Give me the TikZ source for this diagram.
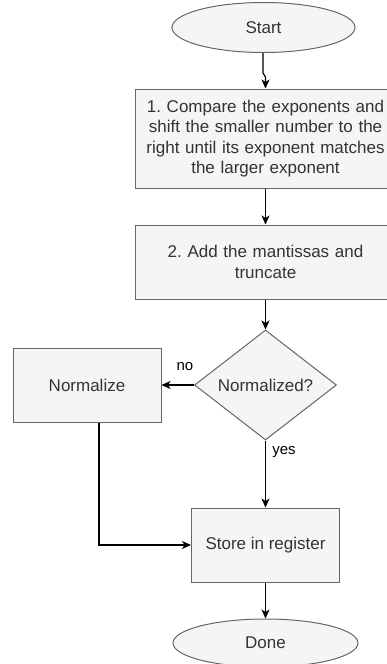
\documentclass[tikz,border=0pt]{standalone}
\usepackage{fontspec}
\setmainfont{Liberation Sans}
\usetikzlibrary{shapes.geometric,arrows.meta}
\definecolor{boxfill}{HTML}{F5F5F5}
\definecolor{boxdraw}{HTML}{666666}
\definecolor{txt}{HTML}{333333}
\frenchspacing
\begin{document}
\begin{tikzpicture}[x=1pt,y=-1pt,
  base/.style={draw=boxdraw, fill=boxfill, line width=1pt, text=txt,
    font=\fontsize{17}{20.5}\selectfont, inner sep=0pt, align=center},
  proc/.style={base, rectangle},
  term/.style={base, ellipse},
  decision/.style={base, diamond, aspect=1.3},
  edge/.style={draw=black, line width=1.2pt,
    -{Stealth[length=9pt,width=8pt,inset=2.5pt]}},
  lbl/.style={font=\fontsize{15}{18}\selectfont, text=black, inner sep=0pt}]
\useasboundingbox (0,0) rectangle (387,664);
\clip (0,0) rectangle (387,664);
\node[term, minimum width=183pt, minimum height=50pt] (start) at (263.5,27.5) {Start};
\node[proc, minimum width=261pt, minimum height=99pt, text width=250pt] (box1) at (265.5,138.5)
  {1. Compare the exponents and\\ shift the smaller number to the\\ right until its exponent matches\\ the larger exponent};
\node[proc, minimum width=261pt, minimum height=74pt, text width=250pt] (box2) at (265.5,262)
  {2. Add the mantissas and\\ truncate};
\node[decision, minimum width=142pt, minimum height=110pt] (dec) at (265.5,385) {Normalized?};
\node[proc, minimum width=148pt, minimum height=74pt] (norm) at (87,385) {Normalize};
\node[proc, minimum width=148pt, minimum height=74pt] (store) at (265.5,545) {Store in register};
\node[term, minimum width=185pt, minimum height=48pt] (done) at (265.5,643) {Done};
\node[lbl] (no) at (185,367) {no};
\node[lbl] (yes) at (284,452) {yes};
\coordinate (j1) at (263,73);
\coordinate (j2) at (265.5,77);
\draw[edge] (start.south -| j1) -- (j1) -- (j2) -- (j2 |- box1.north);
\draw[edge] (box1.south) -- (box2.north);
\draw[edge] (box2.south) -- (dec.north);
\draw[edge] (dec.west) -- (norm.east);
\draw[edge] (dec.south) -- (store.north);
\coordinate (n1) at ([xshift=12pt]norm.south);
\draw[edge] (n1) -- (n1 |- store.west) -- (store.west);
\draw[edge] (store.south) -- (done.north);
\end{tikzpicture}
\end{document}
